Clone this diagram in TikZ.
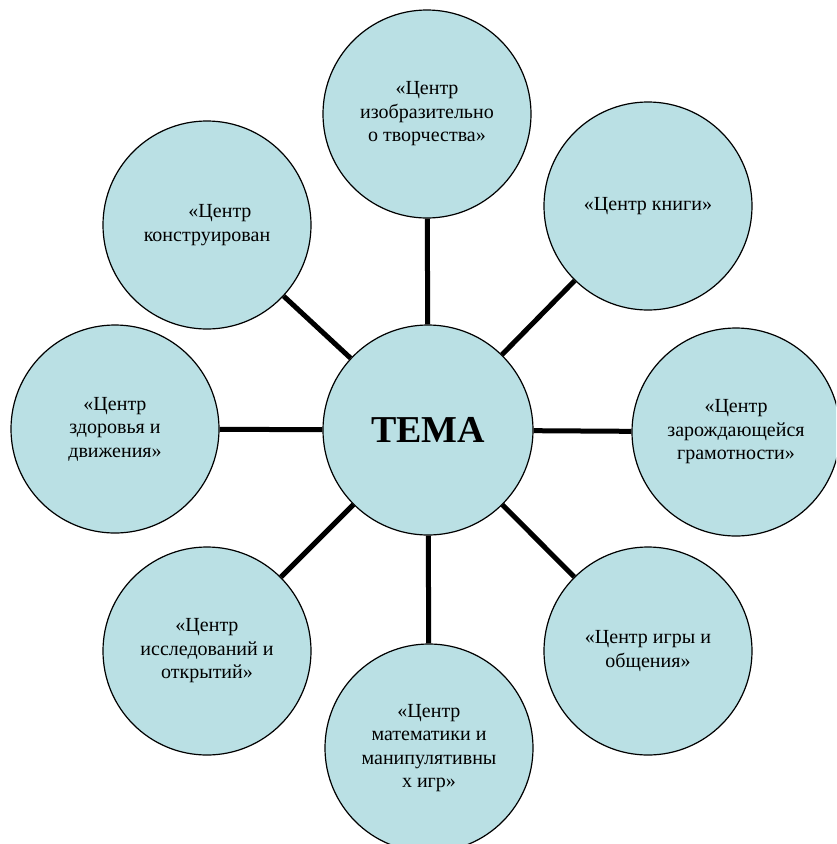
\documentclass[tikz,border=0pt]{standalone}
\usepackage{fontspec}
\setmainfont{Liberation Serif}
\usepackage{tikz}
\definecolor{circfill}{RGB}{186,224,228}
\tikzstyle{center} = [circle, minimum size=210pt, inner sep=0pt, draw=black, line width=1.2pt, fill=circfill, font=\fontsize{38}{44}\selectfont\bfseries]
\tikzstyle{centre} = [circle, minimum size=208pt, inner sep=0pt, draw=black, line width=1.2pt, fill=circfill, align=center, font=\fontsize{20}{23.5}\selectfont]
\tikzstyle{spoke} = [line width=5pt]

\begin{document}
\begin{tikzpicture}[x=1pt, y=-1pt]
	\clip (0,0) rectangle (836,844);
	\node (tema) [center] at (428,430) {ТЕМА};
	\node (izo) [centre] at (427,114) {«Центр\\изобразительно\\о творчества»};
	\node (kniga) [centre] at (648,206) {«Центр книги»};
	\node (gramota) [centre] at (736,432) {«Центр\\зарождающейся\\грамотности»};
	\node (igra) [centre] at (648,651) {«Центр игры и\\общения»};
	\node (matem) [centre] at (429,748) {«Центр\\математики и\\манипулятивны\\х игр»};
	\node (issled) [centre] at (207,651) {«Центр\\исследований и\\открытий»};
	\node (zdorov) [centre] at (115,429) {«Центр\\здоровья и\\движения»};
	\node (konstr) [centre] at (207,225) {\hspace*{1.3em}«Центр\\конструирован};

	\draw [spoke] (tema) -- (izo);
	\draw [spoke] (tema) -- (kniga);
	\draw [spoke] (tema) -- (gramota);
	\draw [spoke] (tema) -- (igra);
	\draw [spoke] (tema) -- (matem);
	\draw [spoke] (tema) -- (issled);
	\draw [spoke] (tema) -- (zdorov);
	\draw [spoke] (tema) -- (konstr);

\end{tikzpicture}
\end{document}
